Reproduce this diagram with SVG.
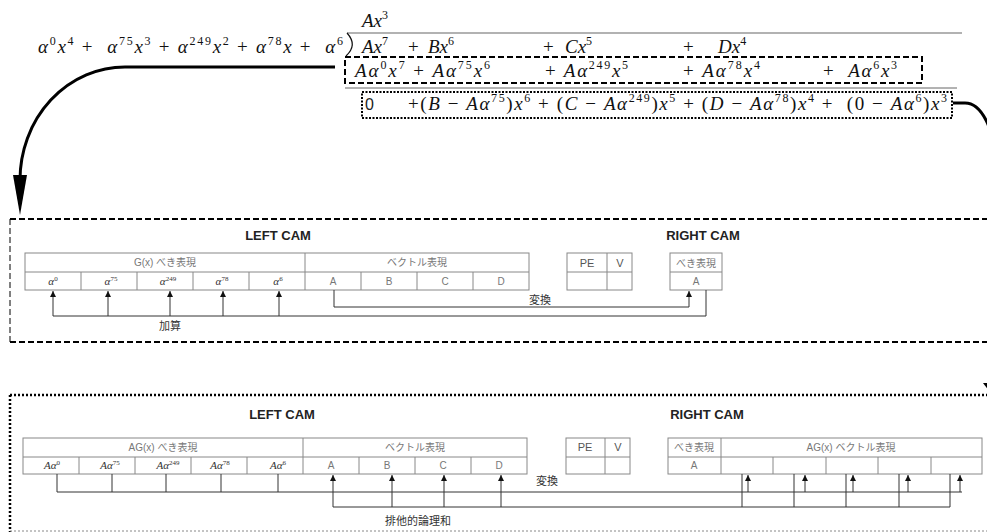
<svg xmlns="http://www.w3.org/2000/svg" width="987" height="532" viewBox="0 0 987 532">
<style>
.m{font-family:"Liberation Serif",serif;font-style:italic;font-size:19px;fill:#111}
.u{font-style:normal}
.s{font-size:12px;font-style:normal}
.cm{font-family:"Liberation Serif",serif;font-style:italic;font-size:11px;fill:#333;text-anchor:middle}
.cs{font-size:7px;font-style:normal}
.cell{fill:#fff;stroke:#888;stroke-width:1}
.ln{fill:none;stroke:#888;stroke-width:1}
.lbl{font-family:"Liberation Sans","Noto Sans CJK JP",sans-serif;font-size:10px;fill:#777;text-anchor:middle}
.pe{font-family:"Liberation Sans",sans-serif;font-size:11px;fill:#555;text-anchor:middle}
.title{font-family:"Liberation Sans",sans-serif;font-weight:bold;font-size:13px;fill:#222;text-anchor:middle}
.note{font-family:"Liberation Sans","Noto Sans CJK JP",sans-serif;font-size:11px;fill:#333;text-anchor:middle}
.conn{fill:none;stroke:#333;stroke-width:1}
.big{fill:none;stroke:#000;stroke-width:3}
</style>
<defs>
<marker id="ah" viewBox="0 0 6 6" refX="6" refY="3" markerWidth="6" markerHeight="6" markerUnits="userSpaceOnUse" orient="auto">
<path d="M0,0 L6,3 L0,6 Z" fill="#111"/>
</marker>
</defs>

<g id="division">
<text class="m" x="362" y="27">Ax<tspan class="s" dy="-8">3</tspan></text>
<line x1="347" y1="33" x2="962" y2="33" stroke="#999" stroke-width="1.5"/>
<path d="M347 33 Q358 45 346 56" fill="none" stroke="#111" stroke-width="1.2"/>
<text class="m" x="38" y="53" textLength="305" lengthAdjust="spacing" xml:space="preserve">α<tspan class="s" dy="-8">0</tspan><tspan dy="8">x</tspan><tspan class="s" dy="-8">4</tspan><tspan class="u" dy="8"> +  </tspan>α<tspan class="s" dy="-8">75</tspan><tspan dy="8">x</tspan><tspan class="s" dy="-8">3</tspan><tspan class="u" dy="8"> + </tspan>α<tspan class="s" dy="-8">249</tspan><tspan dy="8">x</tspan><tspan class="s" dy="-8">2</tspan><tspan class="u" dy="8"> + </tspan>α<tspan class="s" dy="-8">78</tspan><tspan dy="8">x</tspan><tspan class="u"> +  </tspan>α<tspan class="s" dy="-8">6</tspan></text>
<text class="m" x="362" y="53">Ax<tspan class="s" dy="-8">7</tspan></text>
<text class="m u" x="408" y="53">+</text>
<text class="m" x="428" y="53">Bx<tspan class="s" dy="-8">6</tspan></text>
<text class="m u" x="543" y="53">+</text>
<text class="m" x="565" y="53">Cx<tspan class="s" dy="-8">5</tspan></text>
<text class="m u" x="683" y="53">+</text>
<text class="m" x="718" y="53">Dx<tspan class="s" dy="-8">4</tspan></text>
<rect x="345" y="57" width="577" height="26" fill="none" stroke="#000" stroke-width="2" stroke-dasharray="6 3"/>
<text class="m" x="355" y="77" textLength="135" lengthAdjust="spacing" xml:space="preserve">Aα<tspan class="s" dy="-8">0</tspan><tspan dy="8">x</tspan><tspan class="s" dy="-8">7</tspan><tspan class="u" dy="8"> + </tspan>Aα<tspan class="s" dy="-8">75</tspan><tspan dy="8">x</tspan><tspan class="s" dy="-8">6</tspan></text>
<text class="m" x="545" y="77" textLength="83" lengthAdjust="spacing" xml:space="preserve"><tspan class="u">+ </tspan>Aα<tspan class="s" dy="-8">249</tspan><tspan dy="8">x</tspan><tspan class="s" dy="-8">5</tspan></text>
<text class="m" x="683" y="77" textLength="77" lengthAdjust="spacing" xml:space="preserve"><tspan class="u">+ </tspan>Aα<tspan class="s" dy="-8">78</tspan><tspan dy="8">x</tspan><tspan class="s" dy="-8">4</tspan></text>
<text class="m" x="823" y="77" textLength="74" lengthAdjust="spacing" xml:space="preserve"><tspan class="u">+  </tspan>Aα<tspan class="s" dy="-8">6</tspan><tspan dy="8">x</tspan><tspan class="s" dy="-8">3</tspan></text>
<line x1="345" y1="88" x2="957" y2="88" stroke="#666" stroke-width="1"/>
<rect x="362" y="92" width="590" height="26" fill="none" stroke="#000" stroke-width="2" stroke-dasharray="2 1.5"/>
<text x="365" y="110" font-family="Liberation Sans, sans-serif" font-size="16" fill="#222">0</text>
<text class="m" x="408" y="110" textLength="539" lengthAdjust="spacing" xml:space="preserve"><tspan class="u">+(</tspan>B<tspan class="u"> − </tspan>Aα<tspan class="s" dy="-8">75</tspan><tspan class="u" dy="8">)</tspan>x<tspan class="s" dy="-8">6</tspan><tspan class="u" dy="8"> + (</tspan>C<tspan class="u"> − </tspan>Aα<tspan class="s" dy="-8">249</tspan><tspan class="u" dy="8">)</tspan>x<tspan class="s" dy="-8">5</tspan><tspan class="u" dy="8"> + (</tspan>D<tspan class="u"> − </tspan>Aα<tspan class="s" dy="-8">78</tspan><tspan class="u" dy="8">)</tspan>x<tspan class="s" dy="-8">4</tspan><tspan class="u" dy="8"> +  (0 − </tspan>Aα<tspan class="s" dy="-8">6</tspan><tspan class="u" dy="8">)</tspan>x<tspan class="s" dy="-8">3</tspan></text>
</g>

<g id="flow-arrows">
<path class="big" d="M335 67 L125 67 A105 113 0 0 0 20 180"/>
<polygon points="13,175 27,175 20,215" fill="#000"/>
<path class="big" d="M953 103 L965 103 A30 60 0 0 1 995 163 L995 381"/>
<polygon points="983,383 1003,383 993,396" fill="#000"/>
</g>

<g id="stage1">
<line x1="10" y1="219" x2="987" y2="219" stroke="#000" stroke-width="2" stroke-dasharray="6 3"/>
<line x1="10" y1="342" x2="987" y2="342" stroke="#000" stroke-width="2" stroke-dasharray="6 3"/>
<line x1="10" y1="219" x2="10" y2="342" stroke="#000" stroke-width="1" stroke-dasharray="6 3"/>
<text class="title" x="278" y="240">LEFT CAM</text>
<text class="title" x="703" y="240">RIGHT CAM</text>
</g>

<g id="left-cam-1">
<rect class="cell" x="25" y="253" width="504" height="37"/>
<path class="ln" d="M25 272 H529 M305 253 V290 M81 272 V290 M137 272 V290 M193 272 V290 M249 272 V290 M361 272 V290 M417 272 V290 M473 272 V290"/>
<text class="lbl" x="165" y="266">G(x) べき表現</text>
<text class="lbl" x="417" y="266">ベクトル表現</text>
<text class="cm" x="53" y="285">α<tspan class="cs" dy="-4">0</tspan></text>
<text class="cm" x="111" y="285">α<tspan class="cs" dy="-4">75</tspan></text>
<text class="cm" x="168" y="285">α<tspan class="cs" dy="-4">249</tspan></text>
<text class="cm" x="222" y="285">α<tspan class="cs" dy="-4">78</tspan></text>
<text class="cm" x="278" y="285">α<tspan class="cs" dy="-4">6</tspan></text>
<text class="lbl" x="333" y="285">A</text>
<text class="lbl" x="389" y="285">B</text>
<text class="lbl" x="445" y="285">C</text>
<text class="lbl" x="501" y="285">D</text>
</g>

<g id="pe-v-1">
<rect class="cell" x="567" y="253" width="65" height="37"/>
<path class="ln" d="M567 272 H632 M607 253 V290"/>
<text class="pe" x="587" y="267">PE</text>
<text class="pe" x="620" y="267">V</text>
</g>

<g id="right-cam-1">
<rect class="cell" x="670" y="253" width="52" height="37"/>
<path class="ln" d="M670 272 H722"/>
<text class="lbl" x="696" y="267">べき表現</text>
<text class="lbl" x="696" y="285">A</text>
</g>

<g id="connectors-1">
<path class="conn" d="M53 316 V291" marker-end="url(#ah)"/>
<path class="conn" d="M108 316 V291" marker-end="url(#ah)"/>
<path class="conn" d="M170 316 V291" stroke="#777" marker-end="url(#ah)"/>
<path class="conn" d="M223 316 V291" marker-end="url(#ah)"/>
<path class="conn" d="M279 316 V291" marker-end="url(#ah)"/>
<path class="conn" d="M53 316 H706 V290"/>
<path class="conn" d="M334 290 V307 H689 V291" marker-end="url(#ah)"/>
<text class="note" x="170" y="330">加算</text>
<text class="note" x="540" y="304">変換</text>
</g>

<g id="stage2">
<line x1="10" y1="395" x2="987" y2="395" stroke="#000" stroke-width="2.5" stroke-dasharray="2 2"/>
<line x1="10" y1="395" x2="10" y2="532" stroke="#000" stroke-width="2.5" stroke-dasharray="2 2"/>
<line x1="10" y1="531" x2="987" y2="531" stroke="#888" stroke-width="1" stroke-dasharray="2 2"/>
<text class="title" x="282" y="419">LEFT CAM</text>
<text class="title" x="707" y="419">RIGHT CAM</text>
</g>

<g id="left-cam-2">
<rect class="cell" x="23" y="438" width="504" height="36"/>
<path class="ln" d="M23 457 H527 M303 438 V474 M79 457 V474 M135 457 V474 M191 457 V474 M247 457 V474 M359 457 V474 M415 457 V474 M471 457 V474"/>
<text class="lbl" x="163" y="451">AG(x) べき表現</text>
<text class="lbl" x="415" y="451">ベクトル表現</text>
<text class="cm" x="52" y="469">Aα<tspan class="cs" dy="-4">0</tspan></text>
<text class="cm" x="110" y="469">Aα<tspan class="cs" dy="-4">75</tspan></text>
<text class="cm" x="168" y="469">Aα<tspan class="cs" dy="-4">249</tspan></text>
<text class="cm" x="220" y="469">Aα<tspan class="cs" dy="-4">78</tspan></text>
<text class="cm" x="278" y="469">Aα<tspan class="cs" dy="-4">6</tspan></text>
<text class="lbl" x="331" y="469">A</text>
<text class="lbl" x="387" y="469">B</text>
<text class="lbl" x="443" y="469">C</text>
<text class="lbl" x="499" y="469">D</text>
</g>

<g id="pe-v-2">
<rect class="cell" x="566" y="438" width="64" height="36"/>
<path class="ln" d="M566 457 H630 M605 438 V474"/>
<text class="pe" x="585" y="451">PE</text>
<text class="pe" x="618" y="451">V</text>
</g>

<g id="right-cam-2">
<rect class="cell" x="668" y="438" width="314" height="36"/>
<path class="ln" d="M668 457 H982 M721 438 V474 M773 457 V474 M826 457 V474 M878 457 V474 M931 457 V474"/>
<text class="lbl" x="694" y="451">べき表現</text>
<text class="lbl" x="851" y="451">AG(x) ベクトル表現</text>
<text class="lbl" x="694" y="469">A</text>
</g>

<g id="connectors-2">
<path class="conn" d="M57 474 V492 H962 M112 474 V492 M166 474 V492 M221 474 V492 M278 474 V492"/>
<path class="conn" d="M748 492 V475" marker-end="url(#ah)"/>
<path class="conn" d="M805 492 V475" marker-end="url(#ah)"/>
<path class="conn" d="M853 492 V475" marker-end="url(#ah)"/>
<path class="conn" d="M908 492 V475" marker-end="url(#ah)"/>
<path class="conn" d="M960 492 V475" marker-end="url(#ah)"/>
<path class="conn" d="M742 474 V507 M794 474 V507 M846 474 V507 M899 474 V507 M950 474 V507 H333"/>
<path class="conn" d="M333 507 V475" marker-end="url(#ah)"/>
<path class="conn" d="M392 507 V475" marker-end="url(#ah)"/>
<path class="conn" d="M444 507 V475" marker-end="url(#ah)"/>
<path class="conn" d="M501 507 V475" marker-end="url(#ah)"/>
<text class="note" x="418" y="525">排他的論理和</text>
<text class="note" x="547" y="485">変換</text>
</g>
</svg>
